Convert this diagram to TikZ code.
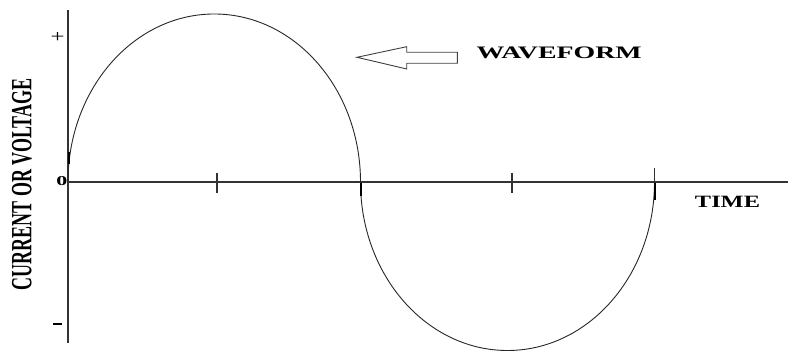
\documentclass[tikz,border=0pt]{standalone}
\usepackage{graphicx}
\usepackage{fontspec}
\setmainfont{Liberation Serif}
\begin{document}
\begin{tikzpicture}[x=1pt,y=-1pt,
  axis/.style={line width=1.1pt,draw=black!80},
  wave/.style={line width=0.9pt,draw=black!85},
  tickmark/.style={line width=1.1pt,draw=black!80},
  thickbit/.style={line width=2pt,draw=black},
  lbl/.style={inner sep=0pt,text=black,font=\bfseries},
  blockarrow/.style={line width=0.9pt,draw=black!75,fill=white}]
\useasboundingbox (0,0) rectangle (788,352);
% axes
\coordinate (vtop) at (68,10);
\coordinate (vbot) at (68,343);
\coordinate (orig) at (68,182);
\coordinate (hend) at (788,182);
\draw[axis] (vtop) -- (vbot);
\draw[axis] (orig) -- (hend);
% ticks
\coordinate (t1a) at (217,173); \coordinate (t1b) at (217,193);
\coordinate (t2a) at (512,173); \coordinate (t2b) at (512,193);
\coordinate (t3a) at (654.5,168); \coordinate (t3b) at (654.5,196);
\draw[tickmark] (t1a) -- (t1b);
\draw[tickmark] (t2a) -- (t2b);
\draw[tickmark] (t3a) -- (t3b);
% waveform
\coordinate (z1) at (360.5,182);
\draw[wave] (orig) arc[start angle=180,end angle=0,x radius=146.25pt,y radius=168pt];
\draw[wave] (z1) arc[start angle=180,end angle=360,x radius=147pt,y radius=168.5pt];
\coordinate (b1a) at (69,152); \coordinate (b1b) at (69,164);
\coordinate (b2a) at (361,183); \coordinate (b2b) at (361,196);
\coordinate (b3a) at (655,183); \coordinate (b3b) at (655,200);
\draw[thickbit] (b1a) -- (b1b);
\draw[thickbit] (b2a) -- (b2b);
\draw[thickbit] (b3a) -- (b3b);
% block arrow
\coordinate (ar1) at (357,57.3);
\coordinate (ar2) at (406.7,46.7);
\coordinate (ar3) at (406.7,52.3);
\coordinate (ar4) at (457.3,52.3);
\coordinate (ar5) at (457.3,63.3);
\coordinate (ar6) at (406.7,63.3);
\coordinate (ar7) at (406.7,69);
\draw[blockarrow] (ar1) -- (ar2) -- (ar3) -- (ar4) -- (ar5) -- (ar6) -- (ar7) -- cycle;
% labels
\node[lbl] (wf) at (559.2,52.5) {\resizebox{165pt}{11.6pt}{WAVEFORM}};
\node[lbl] (tm) at (727.5,201.7) {\resizebox{65pt}{11.3pt}{TIME}};
\node[lbl,rotate=90] (cv) at (22,184.2) {\resizebox{211.7pt}{19.4pt}{CURRENT OR VOLTAGE}};
\node[lbl,anchor=east] (zero) at (67.5,181.5) {\resizebox{11pt}{9pt}{0}};
\node[inner sep=0pt] (plus) at (57.5,37.5) {\resizebox{14pt}{10pt}{+}};
\node[inner sep=0pt] (minus) at (58,324) {\resizebox{9pt}{2pt}{\rule{1pt}{1pt}}};
\end{tikzpicture}
\end{document}
